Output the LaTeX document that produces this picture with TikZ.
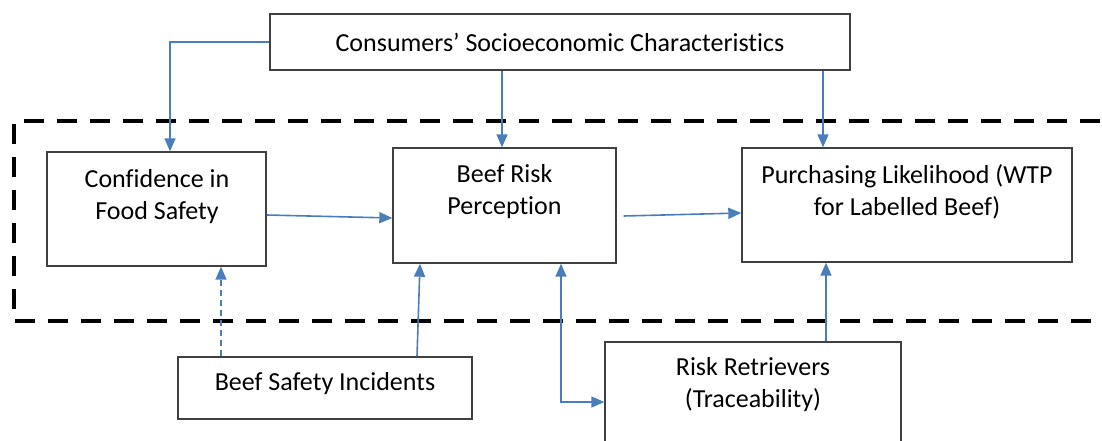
\documentclass[tikz,border=0pt]{standalone}
\usepackage{fontspec}
\setmainfont{Carlito}[Ligatures=NoCommon]
\usetikzlibrary{arrows.meta}
\definecolor{linkblue}{RGB}{74,126,187}
\definecolor{boxgray}{RGB}{64,64,64}
\begin{document}
\begin{tikzpicture}[x=1pt,y=-1pt,
  box/.style={draw=boxgray,line width=1.4pt,fill=white,rectangle,inner sep=0pt},
  txt/.style={align=center,inner sep=0pt,font=\fontsize{26}{32}\selectfont},
  flow/.style={draw=linkblue,line width=1.6pt,-{Triangle[length=13pt,width=11pt]}},
  both/.style={flow,{Triangle[length=13pt,width=11pt]}-{Triangle[length=13pt,width=11pt]}},
  frame/.style={line width=4pt,dash pattern=on 20pt off 13pt}]
\useasboundingbox (0,0) rectangle (1102,441);
\clip (0,0) rectangle (1102,441);

% study frame (open on the right)
\draw[frame] (1100,121) -- (14,121) -- (14,321) -- (1092,321);

% boxes
\node[box,minimum width=580pt,minimum height=56pt] (socio) at (560,42) {};
\node[box,minimum width=219pt,minimum height=114pt] (conf) at (156.5,209) {};
\node[box,minimum width=223pt,minimum height=115pt] (beef) at (504.5,205.5) {};
\node[box,minimum width=330pt,minimum height=114pt] (purch) at (907,205) {};
\node[box,minimum width=294pt,minimum height=62pt] (bsi) at (325,388) {};
\node[box,minimum width=296pt,minimum height=120pt] (rr) at (753,402) {};

% labels
\node[txt] at (560,42) {Consumers’ Socioeconomic Characteristics};
\node[txt] at (157,197) {Confidence in\\Food Safety};
\node[txt] at (504.5,192) {Beef Risk\\Perception};
\node[txt] at (907,192) {Purchasing Likelihood (WTP\\for Labelled Beef)};
\node[txt] at (325,384) {Beef Safety Incidents};
\node[txt] at (753,385) {Risk Retrievers\\(Traceability)};

% connectors
\draw[flow] (socio.west) -| (conf.north -| 170,0);
\draw[flow] (socio.south -| 502,0) -- (beef.north -| 502,0);
\draw[flow] (socio.south -| 823,0) -- (purch.north -| 823,0);
\draw[flow] (conf.east |- 0,215) -- (beef.west |- 0,218);
\draw[flow] ([xshift=7pt]beef.east |- 0,216) -- (purch.west |- 0,213);
\draw[flow,dashed,dash pattern=on 6pt off 4pt] (bsi.north -| 221,0) -- (conf.south -| 221,0);
\draw[flow] (bsi.north -| 417,0) -- (beef.south -| 420,0);
\draw[both] (beef.south -| 561,0) |- (rr.west |- 0,402);
\draw[flow] (rr.north -| 826,0) -- (purch.south -| 826,0);
\end{tikzpicture}
\end{document}
